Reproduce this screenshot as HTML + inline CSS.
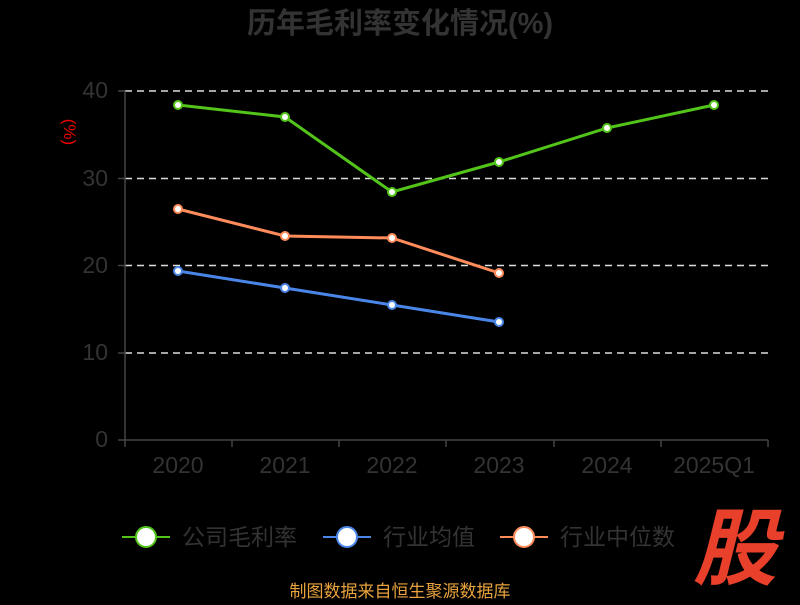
<!DOCTYPE html>
<html><head><meta charset="utf-8"><style>
body{margin:0;background:#000;width:800px;height:600px;overflow:hidden}
text{font-family:"Liberation Sans","Noto Sans CJK SC",sans-serif}
</style></head><body>
<svg width="800" height="600" xmlns="http://www.w3.org/2000/svg">
<rect width="800" height="600" fill="#000"/>
<text x="400" y="33" text-anchor="middle" font-size="29" font-weight="bold" fill="#333">历年毛利率变化情况(%)</text>
<text x="70" y="126" text-anchor="middle" font-size="17" fill="#e00" transform="rotate(90 64 126)">(%)</text>
<g stroke="#ddd" stroke-width="1.5" stroke-dasharray="7,5">
<line x1="125" y1="91" x2="768" y2="91"/><line x1="125" y1="178.5" x2="768" y2="178.5"/>
<line x1="125" y1="265.5" x2="768" y2="265.5"/><line x1="125" y1="353" x2="768" y2="353"/>
</g>
<g stroke="#444" stroke-width="1.5">
<line x1="125" y1="91" x2="125" y2="441"/><line x1="118" y1="91" x2="125" y2="91"/><line x1="118" y1="178.5" x2="125" y2="178.5"/><line x1="118" y1="265.5" x2="125" y2="265.5"/><line x1="118" y1="353" x2="125" y2="353"/><line x1="118" y1="440" x2="125" y2="440"/>
<line x1="125" y1="440" x2="768" y2="440"/>
<line x1="125" y1="440" x2="125" y2="447"/><line x1="232" y1="440" x2="232" y2="447"/><line x1="339" y1="440" x2="339" y2="447"/><line x1="446" y1="440" x2="446" y2="447"/><line x1="554" y1="440" x2="554" y2="447"/><line x1="661" y1="440" x2="661" y2="447"/><line x1="768" y1="440" x2="768" y2="447"/>
</g>
<g font-size="23" fill="#333" text-anchor="end">
<text x="108" y="98">40</text><text x="108" y="186">30</text><text x="108" y="273">20</text><text x="108" y="360">10</text><text x="108" y="447">0</text>
</g>
<g font-size="23" fill="#333" text-anchor="middle">
<text x="178" y="473">2020</text><text x="285" y="473">2021</text><text x="392" y="473">2022</text><text x="499" y="473">2023</text><text x="607" y="473">2024</text><text x="714" y="473">2025Q1</text>
</g>
<polyline points="178,105 285,117 392,192 499,162 607,128 714,105" fill="none" stroke="#52c41a" stroke-width="3"/>
<polyline points="178,209 285,236 392,238 499,273" fill="none" stroke="#ff8c5a" stroke-width="3"/>
<polyline points="178,271 285,288 392,305 499,322" fill="none" stroke="#4a86e8" stroke-width="3"/>
<g fill="#fff" stroke-width="2">
<g stroke="#52c41a"><circle cx="178" cy="105" r="4"/><circle cx="285" cy="117" r="4"/><circle cx="392" cy="192" r="4"/><circle cx="499" cy="162" r="4"/><circle cx="607" cy="128" r="4"/><circle cx="714" cy="105" r="4"/></g>
<g stroke="#ff8c5a"><circle cx="178" cy="209" r="4"/><circle cx="285" cy="236" r="4"/><circle cx="392" cy="238" r="4"/><circle cx="499" cy="273" r="4"/></g>
<g stroke="#4a86e8"><circle cx="178" cy="271" r="4"/><circle cx="285" cy="288" r="4"/><circle cx="392" cy="305" r="4"/><circle cx="499" cy="322" r="4"/></g>
</g>
<g font-size="23" fill="#333">
<line x1="122" y1="537" x2="170" y2="537" stroke="#52c41a" stroke-width="2"/><circle cx="146" cy="537" r="10" fill="#fff" stroke="#52c41a" stroke-width="2"/><text x="182" y="545">公司毛利率</text>
<line x1="323" y1="537" x2="371" y2="537" stroke="#4a86e8" stroke-width="2"/><circle cx="347" cy="537" r="10" fill="#fff" stroke="#4a86e8" stroke-width="2"/><text x="383" y="545">行业均值</text>
<line x1="500" y1="537" x2="548" y2="537" stroke="#ff8c5a" stroke-width="2"/><circle cx="524" cy="537" r="10" fill="#fff" stroke="#ff8c5a" stroke-width="2"/><text x="560" y="545">行业中位数</text>
</g>
<text x="735" y="578" text-anchor="middle" font-size="84" font-weight="bold" fill="#e8402a" font-style="italic">股</text>
<text x="400" y="597" text-anchor="middle" font-size="17" fill="#e8a33d">制图数据来自恒生聚源数据库</text>
</svg>
</body></html>
